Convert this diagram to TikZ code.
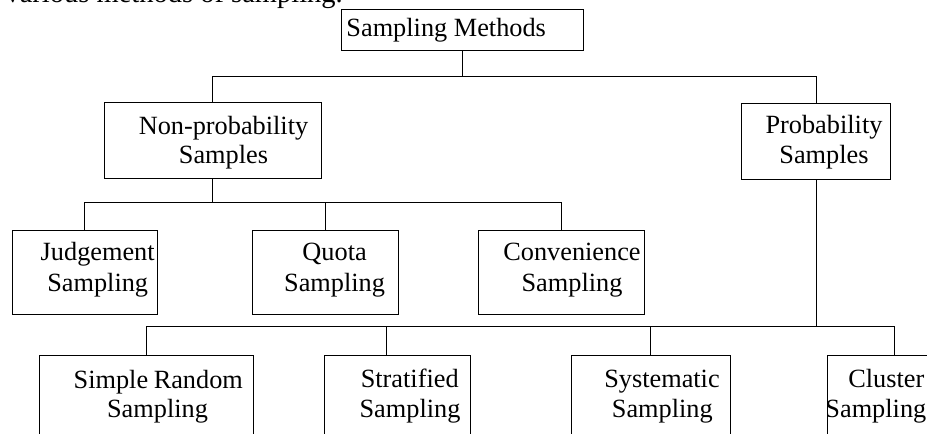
\documentclass[tikz,border=0pt]{standalone}
\usepackage{fontspec}
\setmainfont{Liberation Serif}
\begin{document}
\begin{tikzpicture}[x=1pt,y=-1pt,
  box/.style={draw=black,line width=1pt,rectangle,inner sep=0pt,fill=none},
  txt/.style={inner sep=0pt,anchor=base,font=\fontsize{26.3}{30}\selectfont},
  conn/.style={draw=black,line width=1pt}]
\clip (0,0) rectangle (927,434);
\fill[white] (0,0) rectangle (927,434);
% partial heading text
\node[txt,anchor=base east,font=\fontsize{28.5}{32}\selectfont] (head) at (343,2.5) {various methods of sampling.};
% boxes
\node[box,minimum width=242pt,minimum height=41pt] (top) at (462,29.5) {};
\node[box,minimum width=216.7pt,minimum height=76pt] (np) at (212.65,140.7) {};
\node[box,minimum width=148.6pt,minimum height=75.6pt] (p) at (816,141.5) {};
\node[box,minimum width=145.7pt,minimum height=84pt] (j) at (84.85,272) {};
\node[box,minimum width=145.7pt,minimum height=84pt] (q) at (325.15,272) {};
\node[box,minimum width=166pt,minimum height=84pt] (c) at (561.7,272) {};
\node[box,minimum width=214pt,minimum height=105pt] (sr) at (146.3,407.5) {};
\node[box,minimum width=145.7pt,minimum height=105pt] (st) at (397.15,407.5) {};
\node[box,minimum width=159.7pt,minimum height=105pt] (sy) at (650.85,407.5) {};
\node[box,minimum width=132.7pt,minimum height=105pt] (cl) at (893.65,407.5) {};
% texts
\node[txt] (topt) at (446.2,36) {Sampling Methods};
\node[txt] (npt1) at (223.5,134.3) {Non-probability};
\node[txt] (npt2) at (223.5,163.3) {Samples};
\node[txt] (pt1) at (824,133) {Probability};
\node[txt] (pt2) at (824,163.3) {Samples};
\node[txt] (jt1) at (97.7,260.5) {Judgement};
\node[txt] (jt2) at (97.7,291.3) {Sampling};
\node[txt] (qt1) at (334.6,260.5) {Quota};
\node[txt] (qt2) at (334.6,291.3) {Sampling};
\node[txt] (ct1) at (572,260.5) {Convenience};
\node[txt] (ct2) at (572,291.3) {Sampling};
\node[txt] (srt1) at (158.3,388) {Simple\kern-1pt\ Random};
\node[txt] (srt2) at (157.5,417.5) {Sampling};
\node[txt] (stt1) at (409.7,387.5) {Stratified};
\node[txt] (stt2) at (410,417.5) {Sampling};
\node[txt] (syt1) at (662,387.5) {Systematic};
\node[txt] (syt2) at (662.3,417.5) {Sampling};
\node[txt,anchor=base east] (clt1) at (924.5,387.5) {Cluster};
\node[txt,anchor=base east] (clt2) at (926.5,417.5) {Sampling};
% bus coordinates
\coordinate (bus1) at (0,76);
\coordinate (bus2) at (0,202.7);
\coordinate (bus3) at (0,326.7);
\coordinate (sttop) at ([xshift=62.4pt]st.north west);
\coordinate (cltop) at ([xshift=68pt]cl.north west);
% connectors
\draw[conn] (top.south) -- (top.south |- bus1);
\draw[conn] (np.north) |- (p.north |- bus1) -- (p.north);
\draw[conn] (np.south) -- (np.south |- bus2);
\draw[conn] (j.north) |- (c.north |- bus2) -- (c.north);
\draw[conn] (q.north) -- (q.north |- bus2);
\draw[conn] (p.south) -- (p.south |- bus3);
\draw[conn] (sr.north) |- (cltop |- bus3) -- (cltop);
\draw[conn] (sttop) -- (sttop |- bus3);
\draw[conn] (sy.north) -- (sy.north |- bus3);
\end{tikzpicture}
\end{document}
